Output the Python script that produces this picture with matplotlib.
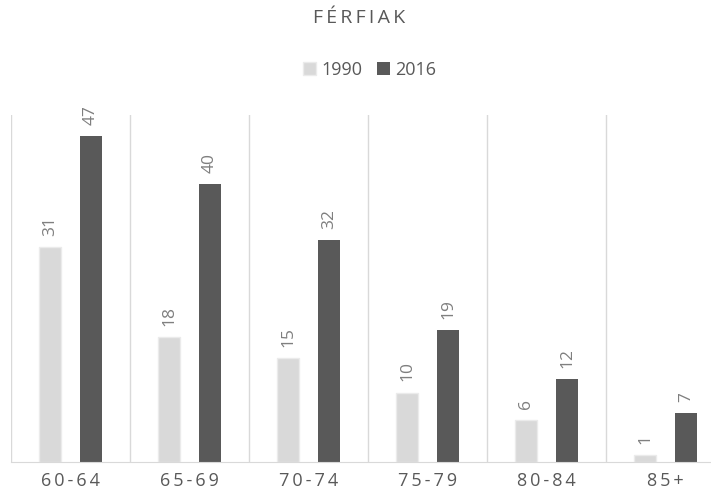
import matplotlib.pyplot as plt
import numpy as np

# --------- data
categories  = ["60-64", "65-69", "70-74", "75-79", "80-84", "85+"]
vals_1990   = [31, 18, 15, 10, 6, 1]
vals_2016   = [47, 40, 32, 19, 12, 7]
series_names = ["1990", "2016"]

c_light = "#d9d9d9"
c_dark  = "#595959"
c_text  = "#7f7f7f"

plt.rcParams['font.family'] = ['Open Sans', 'DejaVu Sans']

fig = plt.figure(figsize=(7.11, 4.92), dpi=100)
ax  = fig.add_axes([11 / 711, 30 / 492, 6 * 119 / 711, 347 / 492])

x     = np.arange(len(categories))
width = 0.18
off   = 0.172

b1 = ax.bar(x - off, vals_1990, width, color=c_light, edgecolor="#ebebeb", linewidth=1, label=series_names[0])
b2 = ax.bar(x + off, vals_2016, width, color=c_dark, label=series_names[1])

# rotated value labels above bars
for bars, vals in ((b1, vals_1990), (b2, vals_2016)):
    for rect, v in zip(bars, vals):
        ax.annotate(str(v), (rect.get_x() + rect.get_width() / 2, rect.get_height()),
                    xytext=(0, 8), textcoords="offset points", rotation=90,
                    ha="center", va="bottom", color=c_text, fontsize=12.5)

# separators between categories
for xs in np.arange(-0.5, len(categories), 1.0):
    ax.axvline(xs, color="#d9d9d9", linewidth=1, zorder=0)

ax.set_xlim(-0.5, len(categories) - 0.5)
ax.set_ylim(0, 50)
ax.set_yticks([])
ax.set_xticks(x)
ax.set_xticklabels(["\u2009".join(list(c)) for c in categories], color=c_dark, fontsize=13)
ax.tick_params(axis="x", length=0, pad=7)
for side in ("top", "right", "left"):
    ax.spines[side].set_visible(False)
ax.spines["bottom"].set_color("#d9d9d9")

fig.text(0.505, 1 - 18 / 492, "\u2009".join("FÉRFIAK"), ha="center", va="center",
         color=c_dark, fontsize=14)
fig.legend(handles=[b1, b2], labels=series_names, loc="center", bbox_to_anchor=(0.52, 1 - 70 / 492),
           ncol=2, frameon=False, fontsize=13, handlelength=0.7, handleheight=0.7,
           handletextpad=0.3, columnspacing=0.8, labelcolor=c_dark)

fig.savefig("out.png", dpi=100)
